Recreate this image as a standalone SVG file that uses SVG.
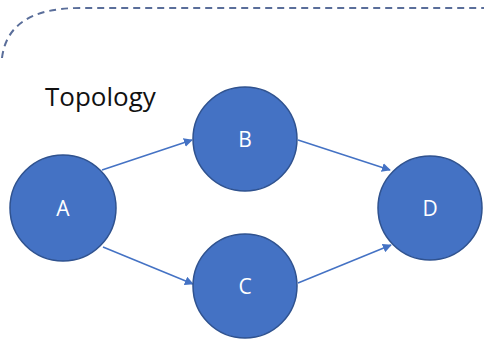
<svg xmlns="http://www.w3.org/2000/svg" width="484" height="339" viewBox="0 0 484 339">
  <style>
    .node circle { fill: #4472C4; stroke: #2F528F; stroke-width: 1.5; }
    .node text { fill: #FFFFFF; font-family: "Open Sans", "Liberation Sans", sans-serif; font-size: 21px; text-anchor: middle; dominant-baseline: central; }
    .edge { stroke: #4472C4; stroke-width: 1.5; fill: none; marker-end: url(#arrow); }
    .frame { fill: none; stroke: #5A6E9A; stroke-width: 2; stroke-dasharray: 7 5; }
    .title { font-family: "Open Sans", "Liberation Sans", sans-serif; font-size: 26px; fill: #111111; }
  </style>
  <defs>
    <marker id="arrow" viewBox="0 0 10 10" refX="9" refY="5" markerWidth="9" markerHeight="9" markerUnits="userSpaceOnUse" orient="auto">
      <path d="M0,0 L10,5 L0,10 z" fill="#4472C4"/>
    </marker>
  </defs>
  <rect width="484" height="339" fill="#FFFFFF"/>
  <!-- dashed frame around the topology -->
  <path class="frame" d="M2,58 Q8,8 80,8 L484,8"/>
  <text class="title" x="45" y="106">Topology</text>
  <g id="connectors">
    <line class="edge" x1="102" y1="170" x2="192" y2="140"/>
    <line class="edge" x1="103" y1="247" x2="193" y2="284"/>
    <line class="edge" x1="298" y1="140" x2="390" y2="170"/>
    <line class="edge" x1="298" y1="283" x2="391" y2="245"/>
  </g>
  <g id="node-a" class="node"><circle cx="63" cy="208" r="53"/><text x="63" y="208">A</text></g>
  <g id="node-b" class="node"><circle cx="245" cy="139" r="52"/><text x="245" y="139">B</text></g>
  <g id="node-c" class="node"><circle cx="245" cy="286" r="52"/><text x="245" y="286">C</text></g>
  <g id="node-d" class="node"><circle cx="430" cy="208" r="52"/><text x="430" y="208">D</text></g>
</svg>
